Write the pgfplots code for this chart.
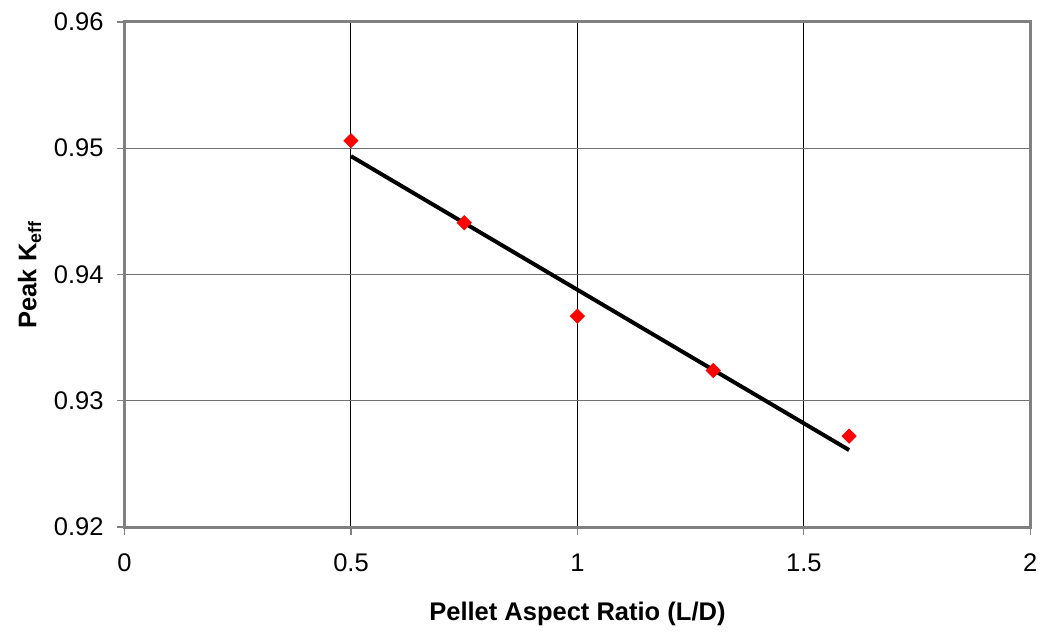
\documentclass[border=0pt]{standalone}
\usepackage{pgfplots}
\pgfplotsset{compat=1.18}
\usepackage{fontspec}
\setmainfont{Liberation Sans}
\definecolor{frame}{HTML}{808080}
\definecolor{hgrid}{HTML}{707070}
\begin{document}
\begin{tikzpicture}
\begin{axis}[
  scale only axis,
  width=454.5pt, height=253.5pt,
  xmin=0, xmax=2, ymin=0.92, ymax=0.96,
  xtick={0,0.5,...,2}, ytick={0.92,0.93,...,0.96},
  xticklabels={0,0.5,1,1.5,2},
  y tick label style={/pgf/number format/fixed, /pgf/number format/fixed zerofill,
    /pgf/number format/precision=2, xshift=-3pt},
  /pgf/number format/assume math mode=true,
  axis line style={draw=frame, line width=1.5pt},
  tick style={draw=frame, line width=0.6pt},
  tick align=outside, major tick length=4pt,
  xtick pos=bottom, ytick pos=left,
  xmajorgrids, ymajorgrids,
  x grid style={black, line width=0.5pt},
  y grid style={hgrid, line width=0.6pt},
  tick label style={font=\fontsize{12.8}{14}\selectfont},
  x tick label style={yshift=-6pt},
  xlabel={\textbf{Pellet Aspect Ratio (L/D)}},
  ylabel={\textbf{Peak K\textsubscript{eff}}},
  label style={font=\fontsize{12.8}{14}\selectfont},
  xlabel style={yshift=-8pt},
  ylabel style={yshift=-0.5pt},
]
\addplot[black, line width=2pt] coordinates {(0.5,0.94937) (1.6,0.92610)};
\addplot[only marks, mark=square*, mark size=2.5pt, red,
  mark options={fill=red, draw=red, rotate=45}]
  coordinates {
    (0.5,0.9506)
    (0.75,0.9441)
    (1.0,0.9367)
    (1.3,0.9324)
    (1.6,0.9272)
  };
\end{axis}
\path (current axis.south west) ++(-62.5pt,-51.5pt) coordinate (bl);
\path (current axis.north east) ++(5pt,11pt) coordinate (tr);
\path (bl) rectangle (tr);
\end{tikzpicture}
\end{document}
